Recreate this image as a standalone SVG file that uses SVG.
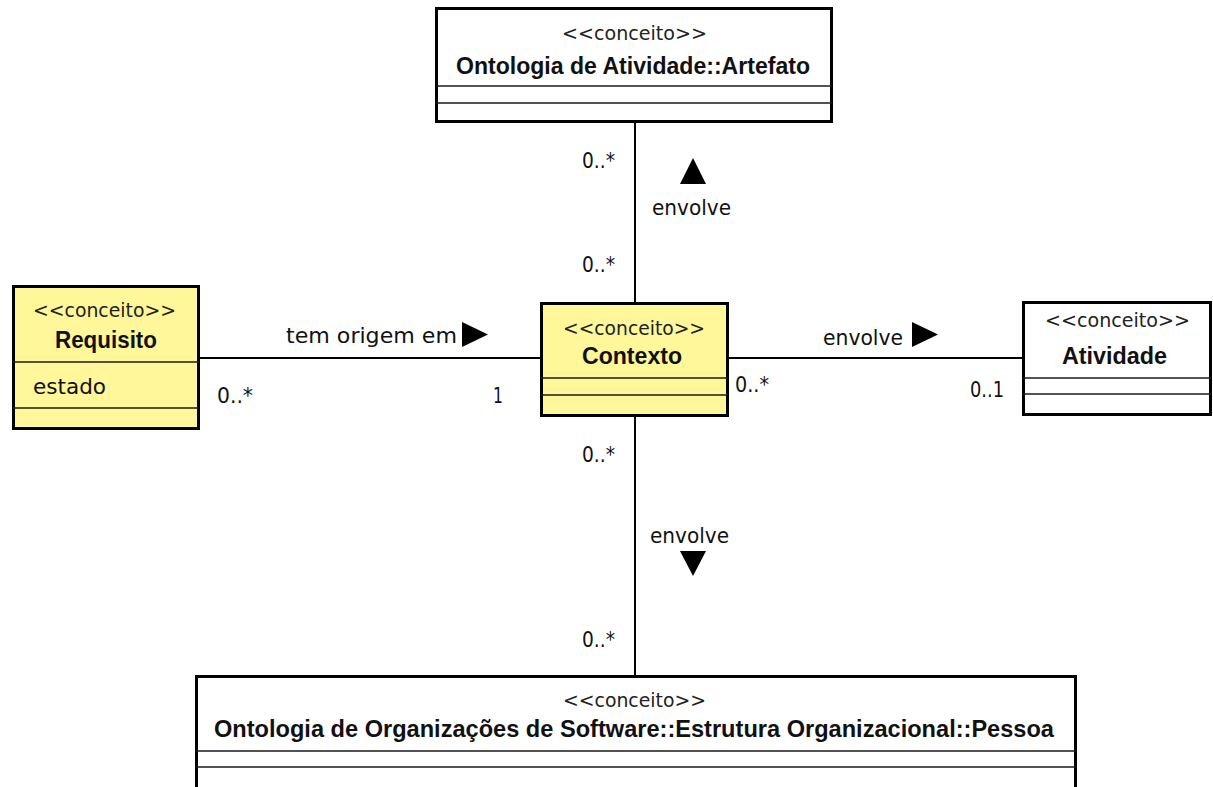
<svg xmlns="http://www.w3.org/2000/svg" width="1213" height="787" viewBox="0 0 1213 787">
  <style>
    .box { fill: #ffffff; stroke: #000000; stroke-width: 3; }
    .box.hl { fill: #fff799; }
    .div { stroke: #1a1a1a; stroke-width: 1.6; }
    .stereo { font-family: "DejaVu Sans", "Liberation Sans", sans-serif; font-size: 19px; fill: #222222; }
    .name { font-family: "Liberation Sans", Arial, sans-serif; font-size: 24px; font-weight: bold; fill: #111111; }
    .attr { font-family: "DejaVu Sans", "Liberation Sans", sans-serif; font-size: 22px; fill: #111111; }
    .lbl { font-family: "DejaVu Sans", "Liberation Sans", sans-serif; font-size: 22px; fill: #111111; }
    .edge { stroke: #000000; stroke-width: 2; fill: none; }
    .dir { fill: #000000; }
  </style>
  <rect width="1213" height="787" fill="#ffffff"/>

  <!-- associations -->
  <g id="connectors">
    <line class="edge" x1="635" y1="123" x2="635" y2="302"/>
    <line class="edge" x1="635" y1="417" x2="635" y2="675"/>
    <line class="edge" x1="200" y1="358" x2="540" y2="358"/>
    <line class="edge" x1="729" y1="358" x2="1022" y2="358"/>

    <!-- Contexto - Artefato -->
    <text class="lbl" x="582" y="168" textLength="33" lengthAdjust="spacingAndGlyphs">0..*</text>
    <polygon class="dir" points="693,158 706,184 680,184"/>
    <text class="lbl" x="652" y="215" textLength="79" lengthAdjust="spacingAndGlyphs">envolve</text>
    <text class="lbl" x="582" y="272" textLength="33" lengthAdjust="spacingAndGlyphs">0..*</text>

    <!-- Requisito - Contexto -->
    <text class="lbl" x="286" y="343" textLength="171" lengthAdjust="spacingAndGlyphs">tem origem em</text>
    <polygon class="dir" points="462,322 488,334.5 462,347"/>
    <text class="lbl" x="217" y="403" textLength="36" lengthAdjust="spacingAndGlyphs">0..*</text>
    <text class="lbl" x="493" y="403" textLength="10" lengthAdjust="spacingAndGlyphs">1</text>

    <!-- Contexto - Atividade -->
    <text class="lbl" x="823" y="345" textLength="80" lengthAdjust="spacingAndGlyphs">envolve</text>
    <polygon class="dir" points="912,322 938,334.5 912,347"/>
    <text class="lbl" x="735" y="392" textLength="34" lengthAdjust="spacingAndGlyphs">0..*</text>
    <text class="lbl" x="970" y="397" textLength="34" lengthAdjust="spacingAndGlyphs">0..1</text>

    <!-- Contexto - Pessoa -->
    <text class="lbl" x="582" y="462" textLength="33" lengthAdjust="spacingAndGlyphs">0..*</text>
    <text class="lbl" x="650" y="543" textLength="79" lengthAdjust="spacingAndGlyphs">envolve</text>
    <polygon class="dir" points="680,551 706,551 693,576"/>
    <text class="lbl" x="582" y="647" textLength="33" lengthAdjust="spacingAndGlyphs">0..*</text>
  </g>

  <g id="artefato">
    <rect class="box" x="436.5" y="8.5" width="395" height="113"/>
    <text class="stereo" x="562" y="40" textLength="145" lengthAdjust="spacingAndGlyphs">&lt;&lt;conceito&gt;&gt;</text>
    <text class="name" x="456" y="74" textLength="354" lengthAdjust="spacingAndGlyphs">Ontologia de Atividade::Artefato</text>
    <line class="div" x1="436" y1="86" x2="832" y2="86"/>
    <line class="div" x1="436" y1="103" x2="832" y2="103"/>
  </g>

  <g id="requisito">
    <rect class="box hl" x="13.5" y="286.5" width="185" height="142"/>
    <text class="stereo" x="33" y="317" textLength="143" lengthAdjust="spacingAndGlyphs">&lt;&lt;conceito&gt;&gt;</text>
    <text class="name" x="55" y="348" textLength="102" lengthAdjust="spacingAndGlyphs">Requisito</text>
    <line class="div" x1="13" y1="362" x2="199" y2="362"/>
    <text class="attr" x="33" y="394" textLength="73" lengthAdjust="spacingAndGlyphs">estado</text>
    <line class="div" x1="13" y1="408" x2="199" y2="408"/>
  </g>

  <g id="contexto">
    <rect class="box hl" x="541.5" y="303.5" width="186" height="112"/>
    <text class="stereo" x="563" y="335" textLength="142" lengthAdjust="spacingAndGlyphs">&lt;&lt;conceito&gt;&gt;</text>
    <text class="name" x="582" y="364" textLength="100" lengthAdjust="spacingAndGlyphs">Contexto</text>
    <line class="div" x1="541" y1="378" x2="728" y2="378"/>
    <line class="div" x1="541" y1="395" x2="728" y2="395"/>
  </g>

  <g id="atividade">
    <rect class="box" x="1023.5" y="302.5" width="187" height="112"/>
    <text class="stereo" x="1045" y="327" textLength="145" lengthAdjust="spacingAndGlyphs">&lt;&lt;conceito&gt;&gt;</text>
    <text class="name" x="1062" y="364" textLength="105" lengthAdjust="spacingAndGlyphs">Atividade</text>
    <line class="div" x1="1023" y1="378" x2="1211" y2="378"/>
    <line class="div" x1="1023" y1="394" x2="1211" y2="394"/>
  </g>

  <g id="pessoa">
    <rect class="box" x="196.5" y="676.5" width="879" height="130"/>
    <text class="stereo" x="563" y="707" textLength="143" lengthAdjust="spacingAndGlyphs">&lt;&lt;conceito&gt;&gt;</text>
    <text class="name" x="214" y="737" textLength="840" lengthAdjust="spacingAndGlyphs">Ontologia de Organizações de Software::Estrutura Organizacional::Pessoa</text>
    <line class="div" x1="196" y1="751" x2="1076" y2="751"/>
    <line class="div" x1="196" y1="767" x2="1076" y2="767"/>
  </g>
</svg>
